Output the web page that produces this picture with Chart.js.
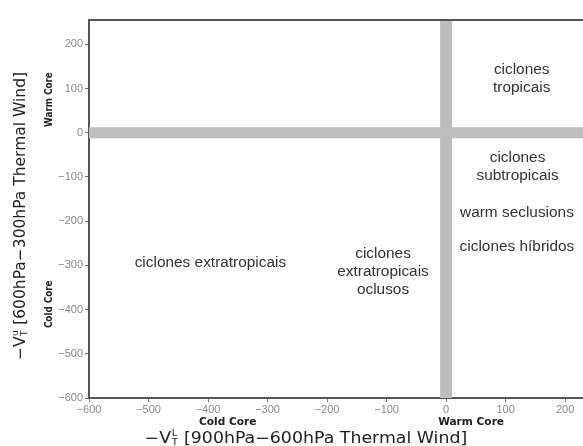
<!DOCTYPE html>
<html>
<head>
<meta charset="utf-8">
<script src="https://cdn.jsdelivr.net/npm/chart.js@4/dist/chart.umd.min.js"></script>
<style>
  html, body { margin: 0; padding: 0; background: #fff; overflow: hidden; }
  #wrap { width: 583px; height: 446px; position: relative; }
</style>
</head>
<body>
<div id="wrap"><canvas id="c" width="583" height="446"></canvas></div>
<script>
// Cyclone phase space: lower vs upper tropospheric thermal wind
const xTicks = [-600, -500, -400, -300, -200, -100, 0, 100, 200];
const yTicks = [-600, -500, -400, -300, -200, -100, 0, 100, 200];
const xLimits = [-600, 230];
const yLimits = [-600, 255];

// zero thermal-wind lines separating cold-core and warm-core regimes
const zeroLower = [{ x: 0, y: yLimits[0] }, { x: 0, y: yLimits[1] }];
const zeroUpper = [{ x: xLimits[0], y: 0 }, { x: xLimits[1], y: 0 }];

// region names placed at their (lower, upper) thermal-wind coordinates
const regionLabels = [
  { lines: ['ciclones', 'tropicais'], x: 127, y: 122 },
  { lines: ['ciclones', 'subtropicais'], x: 120, y: -77 },
  { lines: ['warm seclusions'], x: 119, y: -181 },
  { lines: ['ciclones híbridos'], x: 119, y: -259 },
  { lines: ['ciclones extratropicais'], x: -396, y: -296 },
  { lines: ['ciclones', 'extratropicais', 'oclusos'], x: -106, y: -315 }
];

// core-type hints along each axis
const xCoreLabels = [{ text: 'Cold Core', v: -367 }, { text: 'Warm Core', v: 42 }];
const yCoreLabels = [{ text: 'Warm Core', v: 75 }, { text: 'Cold Core', v: -388 }];

const fmt = v => (v < 0 ? '\u2212' + Math.abs(v) : String(v));

function drawTitle(ctx, cx, cy, parts, bigFont, smallFont, sx) {
  let w = 0;
  for (const p of parts) {
    if (p.text !== undefined) { ctx.font = bigFont; w += ctx.measureText(p.text).width; }
    else { ctx.font = smallFont; w += Math.max(ctx.measureText(p.sup).width, ctx.measureText(p.sub).width) + 1; }
  }
  ctx.save();
  ctx.translate(cx, cy);
  ctx.scale(sx, 1);
  ctx.textBaseline = 'middle';
  ctx.textAlign = 'left';
  let x = -w / 2;
  for (const p of parts) {
    if (p.text !== undefined) {
      ctx.font = bigFont;
      ctx.fillText(p.text, x, 0);
      x += ctx.measureText(p.text).width;
    } else {
      ctx.font = smallFont;
      ctx.fillText(p.sup, x + 0.5, -5);
      ctx.fillText(p.sub, x + 0.5, 4);
      x += Math.max(ctx.measureText(p.sup).width, ctx.measureText(p.sub).width) + 1;
    }
  }
  ctx.restore();
}

const decorations = {
  id: 'decorations',
  afterDraw(chart) {
    const { ctx, chartArea, scales } = chart;
    const xs = scales.x, ys = scales.y;
    ctx.save();

    // frame top edge
    ctx.strokeStyle = '#555';
    ctx.lineWidth = 2;
    ctx.beginPath();
    ctx.moveTo(chartArea.left - 1, chartArea.top);
    ctx.lineTo(chartArea.right, chartArea.top);
    ctx.stroke();

    // region names
    ctx.fillStyle = '#333';
    ctx.font = '14px "Liberation Sans", Arial, sans-serif';
    ctx.textAlign = 'center';
    ctx.textBaseline = 'middle';
    const lh = 18;
    for (const r of regionLabels) {
      const px = xs.getPixelForValue(r.x);
      const py = ys.getPixelForValue(r.y);
      const y0 = py - (r.lines.length - 1) * lh / 2;
      r.lines.forEach((t, i) => {
        ctx.save();
        ctx.translate(px, y0 + i * lh);
        ctx.scale(1.1, 1);
        ctx.fillText(t, 0, 0);
        ctx.restore();
      });
    }

    // core-type hints
    ctx.fillStyle = '#222';
    ctx.font = 'bold 10px "DejaVu Sans", sans-serif';
    for (const c of xCoreLabels) {
      ctx.save();
      ctx.translate(xs.getPixelForValue(c.v), 422);
      ctx.scale(1.06, 1);
      ctx.fillText(c.text, 0, 0);
      ctx.restore();
    }
    for (const c of yCoreLabels) {
      ctx.save();
      ctx.translate(49, ys.getPixelForValue(c.v));
      ctx.rotate(-Math.PI / 2);
      ctx.scale(0.88, 1.1);
      ctx.fillText(c.text, 0, 0);
      ctx.restore();
    }

    // axis titles
    ctx.fillStyle = '#222';
    const big = '15.5px "DejaVu Sans", sans-serif';
    const small = '9px "DejaVu Sans", sans-serif';
    drawTitle(ctx, 306, 439,
      [{ text: '\u2212V' }, { sup: 'L', sub: 'T' }, { text: ' [900hPa\u2212600hPa Thermal Wind]' }],
      big, small, 1.12);
    ctx.save();
    ctx.translate(21, 216);
    ctx.rotate(-Math.PI / 2);
    drawTitle(ctx, 0, 0,
      [{ text: '\u2212V' }, { sup: 'u', sub: 'T' }, { text: ' [600hPa\u2212300hPa Thermal Wind]' }],
      big, small, 1.0);
    ctx.restore();

    ctx.restore();
  }
};

const bandColor = '#bdbdbd';

new Chart(document.getElementById('c'), {
  type: 'scatter',
  data: {
    datasets: [
      { data: zeroUpper, showLine: true, borderColor: bandColor, borderWidth: 11, pointRadius: 0, borderCapStyle: 'butt' },
      { data: zeroLower, showLine: true, borderColor: bandColor, borderWidth: 12, pointRadius: 0, borderCapStyle: 'butt' }
    ]
  },
  options: {
    responsive: false,
    animation: false,
    layout: { padding: { top: 20, right: 0, left: 0, bottom: 0 } },
    plugins: { legend: { display: false }, tooltip: { enabled: false } },
    scales: {
      x: {
        type: 'linear',
        min: xLimits[0],
        max: xLimits[1],
        afterBuildTicks: s => { s.ticks = xTicks.map(v => ({ value: v })); },
        afterFit: s => { s.height = 48; },
        ticks: {
          callback: fmt,
          color: '#8a8a8a',
          font: { family: '"Liberation Sans", Arial, sans-serif', size: 11 },
          padding: 1,
          maxRotation: 0,
          autoSkip: false
        },
        grid: { drawOnChartArea: false, tickLength: 4, color: '#777' },
        border: { color: '#555', width: 2 }
      },
      y: {
        type: 'linear',
        min: yLimits[0],
        max: yLimits[1],
        afterBuildTicks: s => { s.ticks = yTicks.map(v => ({ value: v })); },
        afterFit: s => { s.width = 89; },
        ticks: {
          callback: fmt,
          color: '#8a8a8a',
          font: { family: '"Liberation Sans", Arial, sans-serif', size: 11 },
          padding: 2,
          autoSkip: false
        },
        grid: { drawOnChartArea: false, tickLength: 4, color: '#777' },
        border: { color: '#555', width: 2 }
      }
    }
  },
  plugins: [decorations]
});
</script>
</body>
</html>
